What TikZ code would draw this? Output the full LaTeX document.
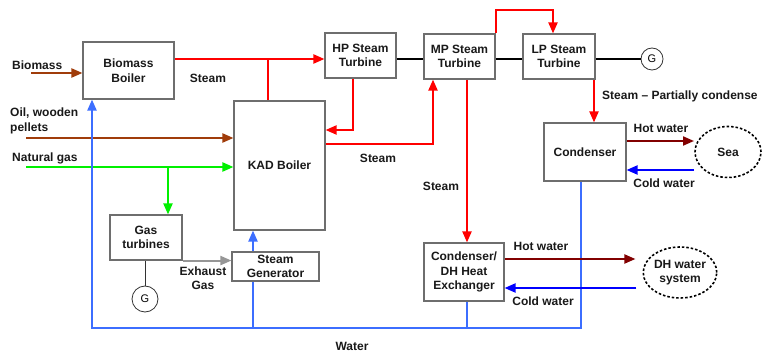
\documentclass[tikz,border=0pt]{standalone}
\usepackage{fontspec}
\setmainfont{Liberation Sans}
\usetikzlibrary{arrows.meta,shapes.geometric}
\definecolor{boxgray}{RGB}{110,110,110}
\definecolor{steamred}{RGB}{255,0,0}
\definecolor{fuelbrown}{RGB}{160,60,10}
\definecolor{gasgreen}{RGB}{0,240,0}
\definecolor{waterblue}{RGB}{60,110,255}
\definecolor{coldblue}{RGB}{0,0,255}
\definecolor{hotred}{RGB}{130,0,0}
\definecolor{exgray}{RGB}{150,150,150}
\tikzset{
  txt/.style={font=\fontsize{12}{14.5}\selectfont\bfseries, text=black!90},
  box/.style={draw=boxgray, line width=1.1pt, fill=white, align=center, inner sep=1pt, txt},
  lab/.style={txt, inner sep=0pt},
  gen/.style={circle, draw=black!80, line width=0.8pt, minimum size=#1, inner sep=0pt, font=\fontsize{11}{12}\selectfont},
  dashell/.style={ellipse, draw=black, line width=1.6pt, dash pattern=on 2.5pt off 2pt, align=center, inner sep=0pt, txt},
  tip/.style={-{Triangle[length=11pt,width=9pt]}},
  steam/.style={draw=steamred, line width=2pt},
  fuel/.style={draw=fuelbrown, line width=2pt},
  gasl/.style={draw=gasgreen, line width=2pt},
  water/.style={draw=waterblue, line width=2pt},
  cold/.style={draw=coldblue, line width=2pt},
  hot/.style={draw=hotred, line width=2pt},
  exh/.style={draw=exgray, line width=2pt},
  shaft/.style={draw=black, line width=2pt},
}
\begin{document}
\begin{tikzpicture}[x=1pt,y=-1pt]
\useasboundingbox (0,0) rectangle (762,352);
\fill[white] (0,0) rectangle (762,352);

% boxes
\node[box, minimum width=91pt, minimum height=57pt] (bb) at (128.5,70.5) {Biomass\\Boiler};
\node[box, minimum width=71pt, minimum height=45pt] (hp) at (360.5,55.5) {HP Steam\\Turbine};
\node[box, minimum width=71pt, minimum height=45pt] (mp) at (459.5,56.5) {MP Steam\\Turbine};
\node[box, minimum width=72pt, minimum height=45pt] (lp) at (559,56.5) {LP Steam\\Turbine};
\node[box, minimum width=91pt, minimum height=129pt] (kad) at (279.5,165.5) {KAD Boiler};
\node[box, minimum width=82pt, minimum height=58pt] (cond) at (585,152) {Condenser};
\node[box, minimum width=72pt, minimum height=45pt] (gt) at (146,237.5) {Gas\\turbines};
\node[box, minimum width=87pt, minimum height=29pt, inner sep=0pt] (sg) at (275.5,266.5) {Steam\\Generator};
\node[box, minimum width=80pt, minimum height=58pt] (dh) at (464,272) {Condenser/\\DH Heat\\Exchanger};
\node[dashell, minimum width=66pt, minimum height=51pt] (sea) at (728,152) {Sea};
\node[dashell, minimum width=72pt, minimum height=51pt] (dhs) at (680,272.5) {DH water\\system};
\node[gen=26pt] (g1) at (145,299) {G};
\node[gen=22pt] (g2) at (652,59) {G};

% coordinates
\coordinate (bmin) at (31,73);
\coordinate (oilin) at (26,138);
\coordinate (gasin) at (26,167);
\coordinate (j1) at (268,59);
\coordinate (gj) at (168,167);
\coordinate (wr) at (581,328);
\coordinate (wl) at (92,328);
\coordinate (wsg) at (253,328);
\coordinate (wdh) at (467,328);
\coordinate (top) at (553,10);

% fuel inputs
\draw[fuel,tip] (bmin) -- (bb.west |- bmin);
\draw[fuel,tip] (oilin) -- (kad.west |- oilin);
\draw[gasl,tip] (gasin) -- (kad.west |- gasin);
\draw[gasl,tip] (gj) -- (gj |- gt.north);

% steam
\draw[steam,tip] (bb.east |- 0,59) -- (hp.west |- 0,59);
\draw[steam] (j1) -- (j1 |- kad.north);
\draw[steam,tip] (hp.south -| 353,0) |- (kad.east |- 0,130);
\draw[steam,tip] (kad.east |- 0,144) -| (mp.south -| 433,0);
\draw[steam,tip] (mp.north east) |- (top) -- (lp.north -| top);
\draw[steam,tip] (mp.south -| wdh) -- (dh.north -| wdh);
\draw[steam,tip] (lp.south -| 594,0) -- (cond.north -| 594,0);

% shaft
\draw[shaft] (hp.east |- 0,59) -- (mp.west |- 0,59);
\draw[shaft] (mp.east |- 0,59) -- (lp.west |- 0,59);
\draw[shaft] (lp.east |- 0,59) -- (g2.west);

% gas turbine
\draw[exh,tip] (gt.south east) -- (sg.west |- gt.south east);
\draw[black!80, line width=1pt] (gt.south -| g1.north) -- (g1.north);

% water loop
\draw[water,tip] (cond.south -| wr) -- (wr) -- (wl) -- (bb.south -| wl);
\draw[water] (dh.south -| wdh) -- (wdh);
\draw[water] (wsg) -- (sg.south -| wsg);
\draw[water,tip] (sg.north -| wsg) -- (kad.south -| wsg);

% condenser - sea
\draw[hot,tip] (cond.east |- 0,141) -- (694,141);
\draw[cold,tip] (694,170) -- (cond.east |- 0,170);
% DH
\draw[hot,tip,shorten >=7pt] (dh.east |- 0,259) -- (dhs.west |- 0,259);
\draw[cold,tip,shorten <=6pt] (dhs.west |- 0,288) -- (dh.east |- 0,288);

% labels
\node[lab, anchor=west] (lbio) at (12,65) {Biomass};
\node[lab] (ls1) at (208,78) {Steam};
\node[lab, anchor=west, align=left] (loil) at (10,121) {Oil, wooden\\pellets};
\node[lab, anchor=west] (lgas) at (12,158) {Natural gas};
\node[lab] (ls2) at (378,158) {Steam};
\node[lab] (ls3) at (441,186) {Steam};
\node[lab, anchor=west] (lpc) at (602,96) {Steam – Partially condense};
\node[lab] (lhw1) at (661,128) {Hot water};
\node[lab] (lcw1) at (664,183) {Cold water};
\node[lab, align=center] (lex) at (203,278) {Exhaust\\Gas};
\node[lab] (lhw2) at (541,246) {Hot water};
\node[lab] (lcw2) at (543,301) {Cold water};
\node[lab] (lw) at (352,346) {Water};
\end{tikzpicture}
\end{document}
